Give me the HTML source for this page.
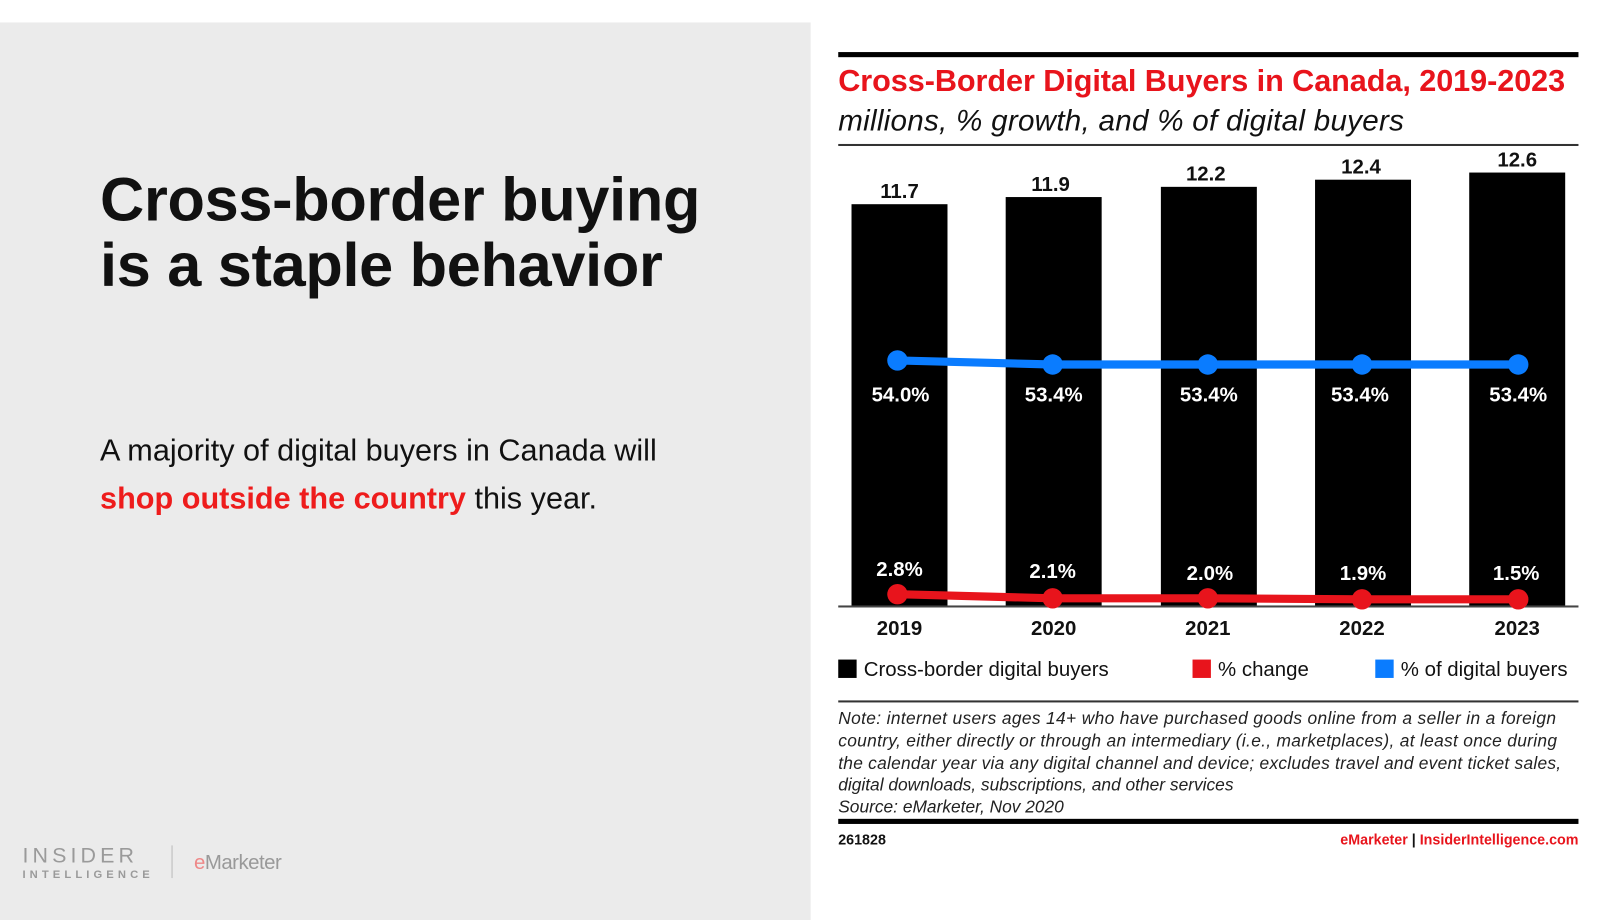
<!DOCTYPE html>
<html><head><meta charset="utf-8"><style>
*{margin:0;padding:0;box-sizing:border-box}
body{width:1600px;height:900px;background:#fff;position:relative;overflow:hidden;font-family:"Liberation Sans",sans-serif}
#w{position:absolute;left:0;top:0;width:1570px;height:882px;transform:scale(1.021);transform-origin:0 0}
.panel{position:absolute;left:0;top:21.5px;width:794px;height:880px;background:#ebebeb}
.h1{position:absolute;left:98px;top:164px;font-size:60px;font-weight:bold;line-height:64px;color:#111;letter-spacing:-0.3px}
.body{position:absolute;left:98px;top:418px;font-size:30px;line-height:47px;color:#111}
.red{color:#ee1c1c;font-weight:bold}
.logo1{position:absolute;left:22px;top:828px;color:#9a9a9a;font-size:21px;letter-spacing:4px;line-height:22px}
.logo2{position:absolute;left:22px;top:851px;color:#9a9a9a;font-size:11px;letter-spacing:4px;font-weight:bold}
.sep{position:absolute;left:168px;top:828px;width:1px;height:32px;background:#bbb}
.em{position:absolute;left:190px;top:834px;font-size:20px;color:#999;letter-spacing:-0.5px}
.em span{color:#e88;}
</style></head><body><div id="w">
<div class="panel"></div>
<div class="h1">Cross-border buying<br>is a staple behavior</div>
<div class="body">A majority of digital buyers in Canada will<br><span class="red">shop outside the country</span> this year.</div>
<div class="logo1">INSIDER</div>
<div class="logo2">INTELLIGENCE</div>
<div class="sep"></div>
<div class="em"><span>e</span>Marketer</div>
<svg width="1570" height="882" style="position:absolute;left:0;top:0" font-family="Liberation Sans, sans-serif">
<rect x="821" y="51" width="725" height="5" fill="#000"/>
<text x="821" y="89" font-size="30" font-weight="bold" fill="#e8141c" textLength="712">Cross-Border Digital Buyers in Canada, 2019-2023</text>
<text x="821" y="128" font-size="29" font-style="italic" fill="#111" textLength="554">millions, % growth, and % of digital buyers</text>
<rect x="821" y="141" width="725" height="2" fill="#333"/>
<g fill="#000">
<rect x="834" y="200" width="94" height="394"/>
<rect x="985" y="193" width="94" height="401"/>
<rect x="1137" y="183" width="94" height="411"/>
<rect x="1288" y="176" width="94" height="418"/>
<rect x="1439" y="169" width="94" height="425"/>
</g>
<rect x="821" y="593" width="725" height="2" fill="#444"/>
<g font-size="20" font-weight="bold" text-anchor="middle" fill="#111">
<text x="881" y="194">11.7</text><text x="1029" y="187">11.9</text><text x="1181" y="177">12.2</text><text x="1333" y="170">12.4</text><text x="1486" y="163">12.6</text>
<text x="881" y="622">2019</text><text x="1032" y="622">2020</text><text x="1183" y="622">2021</text><text x="1334" y="622">2022</text><text x="1486" y="622">2023</text>
</g>
<polyline points="879,353 1031,357 1183,357 1334,357 1487,357" fill="none" stroke="#0a7cff" stroke-width="8"/>
<g fill="#0a7cff"><circle cx="879" cy="353" r="10"/><circle cx="1031" cy="357" r="10"/><circle cx="1183" cy="357" r="10"/><circle cx="1334" cy="357" r="10"/><circle cx="1487" cy="357" r="10"/></g>
<polyline points="879,582 1031,586 1183,586 1334,587 1487,587" fill="none" stroke="#e8141c" stroke-width="8"/>
<g fill="#e8141c"><circle cx="879" cy="582" r="10"/><circle cx="1031" cy="586" r="10"/><circle cx="1183" cy="586" r="10"/><circle cx="1334" cy="587" r="10"/><circle cx="1487" cy="587" r="10"/></g>
<g font-size="20" font-weight="bold" text-anchor="middle" fill="#fff">
<text x="882" y="393">54.0%</text><text x="1032" y="393">53.4%</text><text x="1184" y="393">53.4%</text><text x="1332" y="393">53.4%</text><text x="1487" y="393">53.4%</text>
<text x="881" y="564">2.8%</text><text x="1031" y="566">2.1%</text><text x="1185" y="568">2.0%</text><text x="1335" y="568">1.9%</text><text x="1485" y="568">1.5%</text>
</g>
<rect x="821" y="646" width="18" height="18" fill="#000"/>
<text x="846" y="662" font-size="20" fill="#111">Cross-border digital buyers</text>
<rect x="1168" y="646" width="18" height="18" fill="#e8141c"/>
<text x="1193" y="662" font-size="20" fill="#111">% change</text>
<rect x="1347" y="646" width="18" height="18" fill="#0a7cff"/>
<text x="1372" y="662" font-size="20" fill="#111">% of digital buyers</text>
<rect x="821" y="686" width="725" height="2" fill="#333"/>
<g font-size="17" font-style="italic" fill="#222">
<text x="821" y="709" textLength="703">Note: internet users ages 14+ who have purchased goods online from a seller in a foreign</text>
<text x="821" y="731" textLength="704">country, either directly or through an intermediary (i.e., marketplaces), at least once during</text>
<text x="821" y="753" textLength="708">the calendar year via any digital channel and device; excludes travel and event ticket sales,</text>
<text x="821" y="774">digital downloads, subscriptions, and other services</text>
<text x="821" y="796">Source: eMarketer, Nov 2020</text>
</g>
<rect x="821" y="802" width="725" height="5" fill="#000"/>
<text x="821" y="827" font-size="14" font-weight="bold" fill="#111">261828</text>
<text x="1546" y="827" font-size="14" font-weight="bold" text-anchor="end"><tspan fill="#e8141c">eMarketer</tspan><tspan fill="#111"> | </tspan><tspan fill="#e8141c">InsiderIntelligence.com</tspan></text>
</svg>
</div></body></html>
